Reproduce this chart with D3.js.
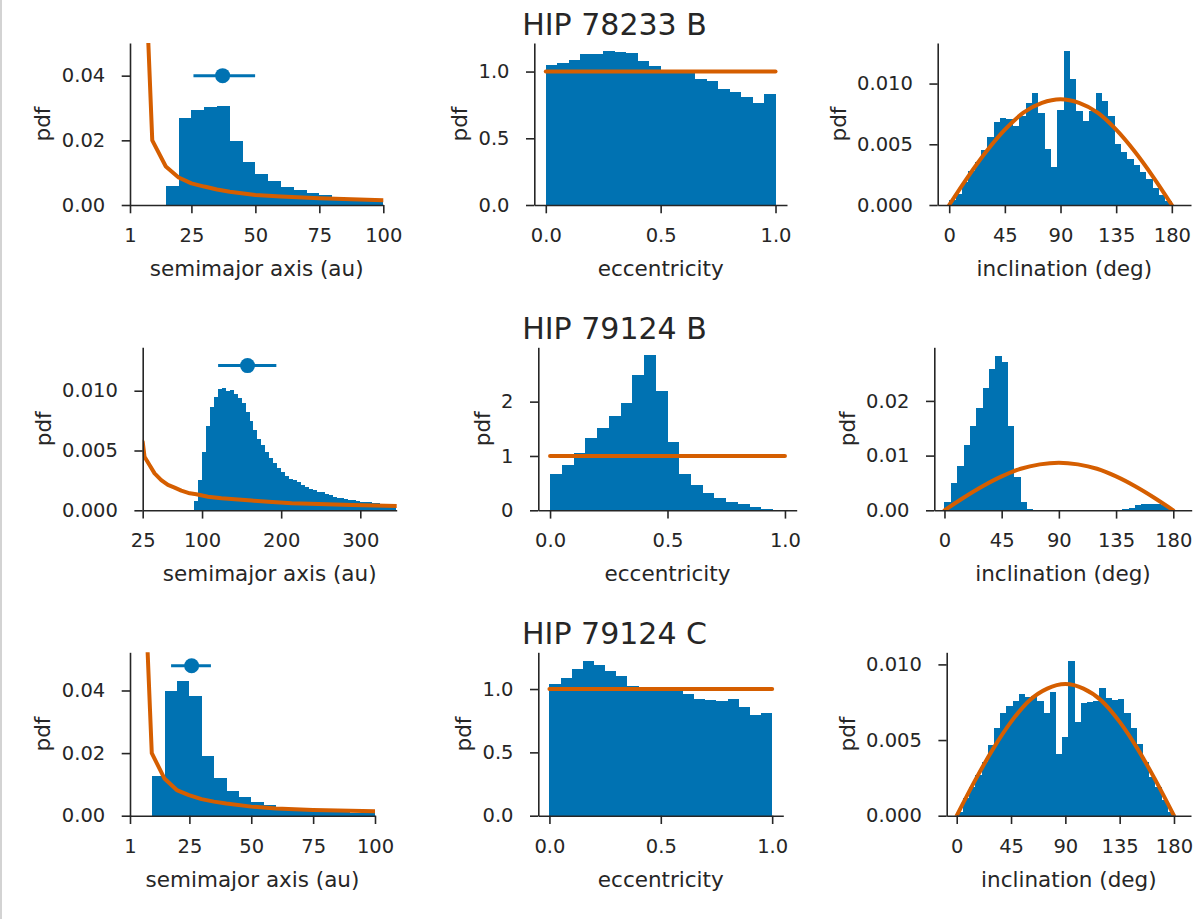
<!DOCTYPE html>
<html>
<head>
<meta charset="utf-8">
<script src="https://cdn.jsdelivr.net/npm/d3@7"></script>
<style>
  body { margin: 0; background: #fff; }
  svg { display: block; font-family: "DejaVu Sans", sans-serif; }
  .tick text { font-family: "DejaVu Sans", sans-serif; font-size: 19.5px; fill: #262626; }
  .domain, .tick line { stroke: #262626; stroke-width: 1.6; }
  .lbl { font-family: "DejaVu Sans", sans-serif; font-size: 21.5px; fill: #262626; }
  .title { font-family: "DejaVu Sans", sans-serif; font-size: 30px; fill: #262626; }
</style>
</head>
<body>
<div id="chart"></div>
<script>
// ---- data ----
const titles = ["HIP 78233 B", "HIP 79124 B", "HIP 79124 C"];

// semimajor axis posteriors (pdf per bin), bins of equal width over the range
const a78233B = [0.0060, 0.0268, 0.0294, 0.0302, 0.0307, 0.0199, 0.0134, 0.0095, 0.0074,
  0.0057, 0.0046, 0.0036, 0.0031, 0.0026, 0.0021, 0.0015, 0.0013];
const a78233BRange = [15, 100];
const a79124B = [0.00078, 0.00253, 0.0049, 0.00705, 0.0086, 0.0095, 0.01014, 0.0102, 0.0100,
  0.0101, 0.00972, 0.00942, 0.00894, 0.00825, 0.00747, 0.00671, 0.00596, 0.00546, 0.00485,
  0.00435, 0.00393, 0.00351, 0.00323, 0.0029, 0.00262, 0.00253, 0.00234, 0.00212, 0.00198,
  0.00178, 0.0017, 0.00156, 0.0015, 0.00134, 0.00128, 0.00114, 0.00106, 0.0010, 0.00095,
  0.00089, 0.00084, 0.00078, 0.00072, 0.0007, 0.00067, 0.00061, 0.00058, 0.00056, 0.00053,
  0.0005, 0.00045];
const a79124BRange = [90, 345];
const a79124C = [0.0128, 0.0399, 0.0429, 0.0382, 0.0191, 0.0120, 0.0080, 0.0061, 0.0045,
  0.0034, 0.0027, 0.0022, 0.0018, 0.0016, 0.0013, 0.0011, 0.0010, 0.0009];
const a79124CRange = [10, 100];

// eccentricity posteriors, 20 bins over [0, 1]
const e78233B = [1.047, 1.062, 1.087, 1.135, 1.129, 1.154, 1.144, 1.139, 1.080, 1.042,
  1.015, 1.010, 1.005, 0.947, 0.930, 0.873, 0.848, 0.810, 0.765, 0.835];
const e79124B = [0.669, 0.835, 1.062, 1.338, 1.510, 1.743, 1.971, 2.492, 2.855, 2.204,
  1.258, 0.669, 0.460, 0.325, 0.233, 0.160, 0.110, 0.068, 0.031, 0.012];
const e79124C = [1.042, 1.087, 1.158, 1.221, 1.192, 1.139, 1.102, 1.026, 1.016, 1.008,
  0.992, 0.981, 0.963, 0.918, 0.913, 0.902, 0.921, 0.860, 0.795, 0.810];
const eRange = [0, 1];

// inclination posteriors (deg)
const i78233B = [0.0004, 0.0009, 0.0019, 0.0028, 0.0035, 0.0045, 0.0056, 0.0068, 0.0072,
  0.0071, 0.0065, 0.0073, 0.0084, 0.0092, 0.0076, 0.0046, 0.0031, 0.0078, 0.0127, 0.0104,
  0.0077, 0.0069, 0.0077, 0.0092, 0.0086, 0.0073, 0.0050, 0.0044, 0.0038, 0.0033, 0.0027,
  0.0021, 0.0014, 0.0008, 0.0003];
const i79124B = [0.00158, 0.00506, 0.00817, 0.01188, 0.01536, 0.01877, 0.02243, 0.0259,
  0.02828, 0.02718, 0.01542, 0.00609, 0.00158, 0.00024, 0, 0, 0, 0, 0, 0, 0, 0, 0, 0, 0,
  0, 0, 0.00006, 0.0002, 0.0005, 0.0009, 0.0011, 0.0012, 0.0012, 0.0009, 0.0005];
const i79124C = [0.00026, 0.00115, 0.00192, 0.00269, 0.00352, 0.00467, 0.00581, 0.00676,
  0.00725, 0.0076, 0.00802, 0.00782, 0.0079, 0.0076, 0.00676, 0.00819, 0.00407, 0.00518,
  0.01022, 0.00621, 0.00742, 0.00753, 0.0076, 0.00841, 0.00775, 0.00764, 0.00769, 0.00676,
  0.00577, 0.00474, 0.00358, 0.00258, 0.00192, 0.00104, 0.00026];
const iRange = [0, 180];

// priors (orange curves): [x, pdf]
const aPrior78233B = [[4.6, 0.12], [9.7, 0.020], [15, 0.0119], [20, 0.0085], [25, 0.0067],
  [30, 0.0057], [35, 0.0048], [40, 0.0041], [50, 0.0031], [60, 0.0026], [75, 0.0021], [100, 0.0015]];
const aPrior79124B = [[25, 0.00574], [27.3, 0.00448], [33.6, 0.00379], [40, 0.00309],
  [48.4, 0.00253], [56.9, 0.00212], [65.3, 0.00189], [73.8, 0.00164], [84.4, 0.00142],
  [92.8, 0.00134], [107.6, 0.00114], [124.5, 0.0010], [141.4, 0.00092], [162.6, 0.00081],
  [183.7, 0.00072], [213.3, 0.00058], [247.1, 0.00053], [289.4, 0.00045], [346, 0.00036]];
const aPrior79124C = [[4.6, 0.12], [9.8, 0.020], [14.9, 0.0119], [19.9, 0.0082], [24.8, 0.0066],
  [29.9, 0.0053], [34.9, 0.0045], [39.9, 0.0039], [50, 0.0029], [60, 0.0023], [75, 0.0018], [100, 0.0014]];
const ePrior = [[0, 1], [1, 1]];
const iPrior = [[0, 0], [15, 0.0023], [30, 0.0044], [45, 0.0062], [60, 0.0076], [75, 0.0084],
  [90, 0.0087], [105, 0.0084], [120, 0.0076], [135, 0.0062], [150, 0.0044], [165, 0.0023], [180, 0]];

// measured separation marker: [low, value, high] at pdf height
const sep78233B = [25.8, 37.2, 49.9], sepY78233B = 0.040;
const sep79124B = [120.3, 157.5, 193.9], sepY79124B = 0.0121;
const sep79124C = [17.6, 25.9, 33.7], sepY79124C = 0.0479;

// tick values
const aTicksShort = [1, 25, 50, 75, 100];
const aTicksLong = [25, 100, 200, 300];
const eTicks = [0, 0.5, 1.0];
const iTicks = [0, 45, 90, 135, 180];

// ---- layout ----
const W = 1199, H = 919;
const blue = "#0072B2", orange = "#D55E00";
const rows = [{ top: 43, bottom: 205 }, { top: 347.3, bottom: 510.3 }, { top: 652.3, bottom: 815.7 }];

const panels = [
  { row: 0, x0: 130, x1: 383.3, xd: [1, 100], ymax: 0.0501, yt: [0, 0.02, 0.04], yf: ".2f",
    xt: aTicksShort, xf: "d", hist: a78233B, range: a78233BRange, prior: aPrior78233B,
    sep: sep78233B, sepY: sepY78233B, xl: "semimajor axis (au)" },
  { row: 0, x0: 534.3, x1: 787, xd: [-0.05, 1.05], ymax: 1.214, yt: [0, 0.5, 1.0], yf: ".1f",
    xt: eTicks, xf: ".1f", hist: e78233B, range: eRange, prior: ePrior, xl: "eccentricity" },
  { row: 0, x0: 937.7, x1: 1191, xd: [-9.3, 195.5], ymax: 0.01334, yt: [0, 0.005, 0.010], yf: ".3f",
    xt: iTicks, xf: "d", hist: i78233B, range: iRange, prior: iPrior, xl: "inclination (deg)" },
  { row: 1, x0: 142.7, x1: 396.7, xd: [25, 346], ymax: 0.01363, yt: [0, 0.005, 0.010], yf: ".3f",
    xt: aTicksLong, xf: "d", hist: a79124B, range: a79124BRange, prior: aPrior79124B,
    sep: sep79124B, sepY: sepY79124B, xl: "semimajor axis (au)" },
  { row: 1, x0: 538.3, x1: 796.7, xd: [-0.05, 1.05], ymax: 3.0, yt: [0, 1, 2], yf: "d",
    xt: eTicks, xf: ".1f", hist: e79124B, range: eRange, prior: ePrior, xl: "eccentricity" },
  { row: 1, x0: 934.3, x1: 1191.7, xd: [-8, 194.5], ymax: 0.0298, yt: [0, 0.01, 0.02], yf: ".2f",
    xt: iTicks, xf: "d", hist: i79124B, range: iRange, prior: iPrior, xl: "inclination (deg)" },
  { row: 2, x0: 130, x1: 375, xd: [1, 100], ymax: 0.0522, yt: [0, 0.02, 0.04], yf: ".2f",
    xt: aTicksShort, xf: "d", hist: a79124C, range: a79124CRange, prior: aPrior79124C,
    sep: sep79124C, sepY: sepY79124C, xl: "semimajor axis (au)" },
  { row: 2, x0: 538.3, x1: 783.3, xd: [-0.05, 1.05], ymax: 1.29, yt: [0, 0.5, 1.0], yf: ".1f",
    xt: eTicks, xf: ".1f", hist: e79124C, range: eRange, prior: ePrior, xl: "eccentricity" },
  { row: 2, x0: 946.7, x1: 1191, xd: [-8.3, 194.1], ymax: 0.0108, yt: [0, 0.005, 0.010], yf: ".3f",
    xt: iTicks, xf: "d", hist: i79124C, range: iRange, prior: iPrior, xl: "inclination (deg)" }
];

const svg = d3.select("#chart").append("svg")
  .attr("width", W)
  .attr("height", H);

// thin grey frame line on the left edge of the original image
svg.append("line")
  .attr("x1", 1).attr("x2", 1).attr("y1", 0).attr("y2", H)
  .attr("stroke", "#c4c4c4").attr("stroke-width", 1.5);

// row titles
rows.forEach((r, k) => {
  svg.append("text")
    .attr("class", "title")
    .attr("x", 614.5)
    .attr("y", r.top - 8)
    .attr("text-anchor", "middle")
    .text(titles[k]);
});

panels.forEach((p, k) => {
  const r = rows[p.row];
  const x = d3.scaleLinear().domain(p.xd).range([p.x0, p.x1]);
  const y = d3.scaleLinear().domain([0, p.ymax]).range([r.bottom, r.top]);
  const g = svg.append("g");

  const clipId = "clip" + k;
  svg.append("clipPath").attr("id", clipId)
    .append("rect")
    .attr("x", p.x0).attr("y", r.top)
    .attr("width", p.x1 - p.x0).attr("height", r.bottom - r.top);

  // histogram bars
  const n = p.hist.length;
  const bw = (p.range[1] - p.range[0]) / n;
  g.append("g").selectAll("rect")
    .data(p.hist)
    .enter()
    .append("rect")
    .attr("x", (d, i) => x(p.range[0] + i * bw))
    .attr("width", (d, i) => x(p.range[0] + (i + 1) * bw) - x(p.range[0] + i * bw))
    .attr("y", d => y(d))
    .attr("height", d => y(0) - y(d))
    .attr("fill", blue)
    .attr("shape-rendering", "crispEdges");

  // prior curve
  const line = d3.line()
    .x(d => x(d[0]))
    .y(d => y(d[1]))
    .curve(p.prior === iPrior ? d3.curveMonotoneX : d3.curveLinear);
  g.append("path")
    .datum(p.prior)
    .attr("clip-path", `url(#${clipId})`)
    .attr("d", line)
    .attr("fill", "none")
    .attr("stroke", orange)
    .attr("stroke-width", 4)
    .attr("stroke-linecap", "round")
    .attr("stroke-linejoin", "round");

  // measured separation with error bar
  if (p.sep) {
    g.append("line")
      .attr("x1", x(p.sep[0])).attr("x2", x(p.sep[2]))
      .attr("y1", y(p.sepY)).attr("y2", y(p.sepY))
      .attr("stroke", blue).attr("stroke-width", 3);
    g.append("circle")
      .attr("cx", x(p.sep[1])).attr("cy", y(p.sepY))
      .attr("r", 7.5).attr("fill", blue);
  }

  // axes
  g.append("g")
    .attr("transform", `translate(0,${r.bottom})`)
    .call(d3.axisBottom(x).tickValues(p.xt).tickFormat(d3.format(p.xf))
      .tickSize(8.3).tickSizeOuter(0).tickPadding(14.7));

  const yAx = g.append("g")
    .attr("transform", `translate(${p.x0},0)`)
    .call(d3.axisLeft(y).tickValues(p.yt).tickFormat(d3.format(p.yf))
      .tickSize(8.3).tickSizeOuter(0).tickPadding(16.5));

  // axis labels
  g.append("text")
    .attr("class", "lbl")
    .attr("x", (p.x0 + p.x1) / 2)
    .attr("y", r.bottom + 71)
    .attr("text-anchor", "middle")
    .text(p.xl);

  // y label sits left of the widest tick label (bbox is in the axis group's frame)
  const bb = yAx.selectAll(".tick text").nodes()
    .map(t => t.getBBox().x)
    .reduce((a, b) => Math.min(a, b), 0);
  const lx = p.x0 + bb - 8.3 - 3;
  const ly = (r.top + r.bottom) / 2;
  g.append("text")
    .attr("class", "lbl")
    .attr("transform", `translate(${lx},${ly}) rotate(-90)`)
    .attr("text-anchor", "middle")
    .text("pdf");
});
</script>
</body>
</html>
